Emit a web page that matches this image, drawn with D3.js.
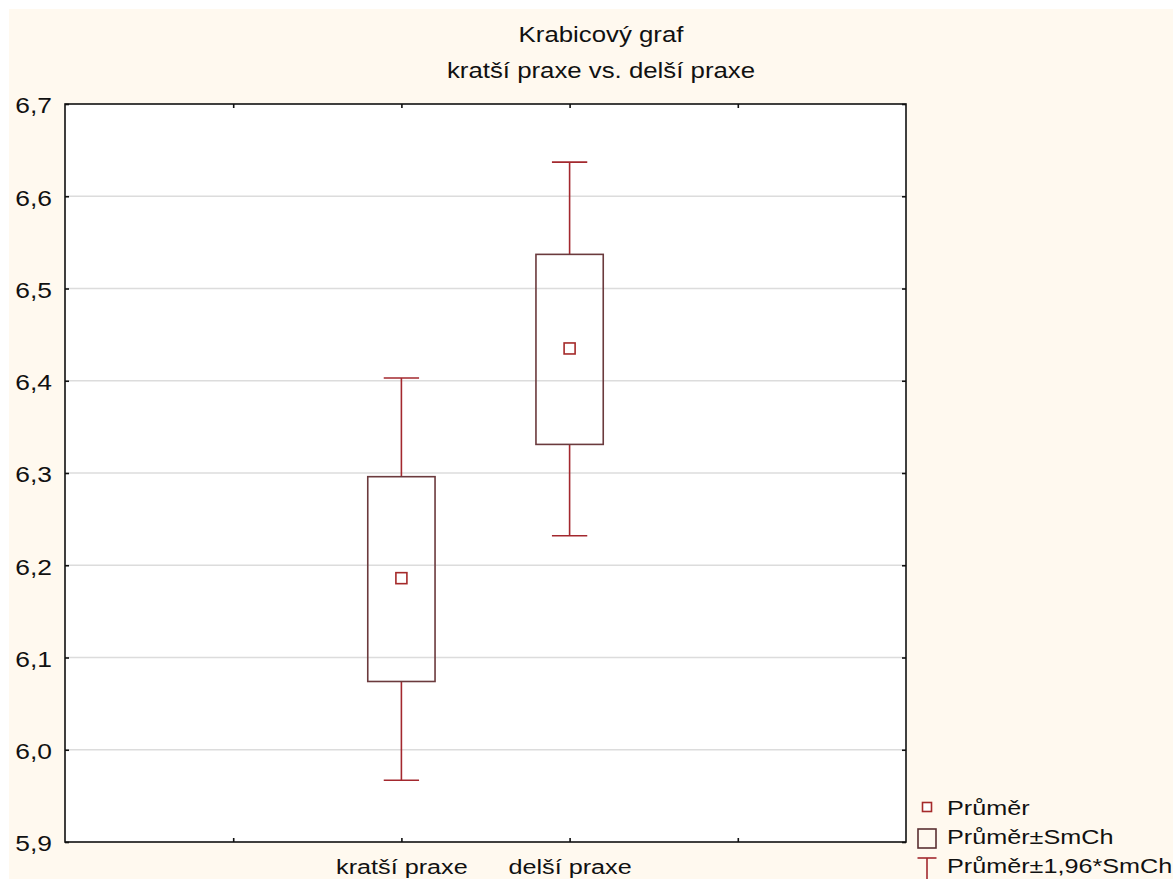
<!DOCTYPE html>
<html>
<head>
<meta charset="utf-8">
<script src="https://cdn.jsdelivr.net/npm/d3@7/dist/d3.min.js"></script>
<style>
  html, body { margin: 0; padding: 0; background: #ffffff; }
  svg { display: block; }
  text { font-family: "Liberation Sans", Arial, sans-serif; fill: #111; }
</style>
</head>
<body>
<svg id="chart" width="1173" height="879"></svg>
<script>
// Group names and their summary statistics (mean, standard error bounds, 1.96*SE bounds)
const groups = ["kratší praxe", "delší praxe"];
const means = [6.186, 6.435];
const seLow = [6.074, 6.331];
const seHigh = [6.296, 6.537];
const ciLow = [5.967, 6.232];
const ciHigh = [6.403, 6.637];
const yTicks = [5.9, 6.0, 6.1, 6.2, 6.3, 6.4, 6.5, 6.6, 6.7];
const titleLines = ["Krabicový graf", "kratší praxe vs. delší praxe"];
const legendLabels = ["Průměr", "Průměr±SmCh", "Průměr±1,96*SmCh"];

const W = 1173, H = 879;
const plot = { left: 65, right: 906, top: 104, bottom: 842 };
const stretch = 1.2; // wide glyph rendering used for all labels

const boxColor = "#6b3a3d";
const whiskerColor = "#a3282e";
const meanColor = "#a52a2a";
const gridColor = "#dcdcdc";

const svg = d3.select("#chart");

// Cream page background with a thin white margin
svg.append("rect").attr("x", 0).attr("y", 0).attr("width", W).attr("height", H).attr("fill", "#ffffff");
svg.append("rect").attr("x", 9).attr("y", 9).attr("width", W - 9).attr("height", H - 9).attr("fill", "#fff9ef");

const y = d3.scaleLinear().domain([5.9, 6.7]).range([plot.bottom, plot.top]);
// Categories sit at slots 1 and 2 of a five-slot axis
const x = d3.scaleLinear().domain([-1, 4]).range([plot.left, plot.right]);
const catPos = groups.map((g, i) => i + 1);

// Plot area
svg.append("rect")
  .attr("x", plot.left).attr("y", plot.top)
  .attr("width", plot.right - plot.left).attr("height", plot.bottom - plot.top)
  .attr("fill", "#ffffff");

// Horizontal gridlines
svg.append("g").selectAll("line")
  .data(yTicks.slice(1, -1))
  .join("line")
  .attr("x1", plot.left).attr("x2", plot.right)
  .attr("y1", d => y(d)).attr("y2", d => y(d))
  .attr("stroke", gridColor).attr("stroke-width", 1.6);

// Axes with inward ticks
const fmt = d => d3.format(".1f")(d).replace(".", ",");
const tickLen = 4;

const yAxisL = svg.append("g").attr("transform", `translate(${plot.left},0)`)
  .call(d3.axisLeft(y).tickValues(yTicks).tickSize(-tickLen).tickFormat(fmt));
const yAxisR = svg.append("g").attr("transform", `translate(${plot.right},0)`)
  .call(d3.axisRight(y).tickValues(yTicks).tickSize(-tickLen).tickFormat(""));
const xTickVals = [0, 1, 2, 3];
const xAxisB = svg.append("g").attr("transform", `translate(0,${plot.bottom})`)
  .call(d3.axisBottom(x).tickValues(xTickVals).tickSize(-tickLen)
    .tickFormat(d => (d >= 1 && d <= groups.length) ? groups[d - 1] : ""));
const xAxisT = svg.append("g").attr("transform", `translate(0,${plot.top})`)
  .call(d3.axisTop(x).tickValues(xTickVals).tickSize(-tickLen).tickFormat(""));

[yAxisL, yAxisR, xAxisB, xAxisT].forEach(a => {
  a.select(".domain").remove();
  a.selectAll(".tick line").attr("stroke", "#111").attr("stroke-width", 1.6);
});
yAxisL.selectAll(".tick text")
  .attr("font-size", 22).attr("fill", "#111")
  .attr("font-family", "Liberation Sans, Arial, sans-serif")
  .attr("x", -13 / stretch).attr("dy", "0.4em")
  .attr("transform", `scale(${stretch},1)`);
xAxisB.selectAll(".tick text")
  .attr("font-size", 21).attr("fill", "#111")
  .attr("font-family", "Liberation Sans, Arial, sans-serif")
  .attr("y", 32).attr("dy", null)
  .attr("transform", `scale(${stretch},1)`);

// Frame
svg.append("rect")
  .attr("x", plot.left).attr("y", plot.top)
  .attr("width", plot.right - plot.left).attr("height", plot.bottom - plot.top)
  .attr("fill", "none").attr("stroke", "#111").attr("stroke-width", 1.6);

// Boxes: mean ± SE, whiskers: mean ± 1.96*SE, marker: mean
const boxHalf = x(0.2) - x(0);
const capHalf = x(0.105) - x(0);
const meanHalf = 5.5;

const g = svg.append("g");
groups.forEach((name, i) => {
  const cx = x(catPos[i]);
  // upper whisker
  g.append("line").attr("x1", cx).attr("x2", cx)
    .attr("y1", y(ciHigh[i])).attr("y2", y(seHigh[i]))
    .attr("stroke", whiskerColor).attr("stroke-width", 1.6);
  g.append("line").attr("x1", cx - capHalf).attr("x2", cx + capHalf)
    .attr("y1", y(ciHigh[i])).attr("y2", y(ciHigh[i]))
    .attr("stroke", whiskerColor).attr("stroke-width", 1.6);
  // lower whisker
  g.append("line").attr("x1", cx).attr("x2", cx)
    .attr("y1", y(seLow[i])).attr("y2", y(ciLow[i]))
    .attr("stroke", whiskerColor).attr("stroke-width", 1.6);
  g.append("line").attr("x1", cx - capHalf).attr("x2", cx + capHalf)
    .attr("y1", y(ciLow[i])).attr("y2", y(ciLow[i]))
    .attr("stroke", whiskerColor).attr("stroke-width", 1.6);
  // box
  g.append("rect")
    .attr("x", cx - boxHalf).attr("y", y(seHigh[i]))
    .attr("width", boxHalf * 2).attr("height", y(seLow[i]) - y(seHigh[i]))
    .attr("fill", "none").attr("stroke", boxColor).attr("stroke-width", 1.6);
  // mean marker
  g.append("rect")
    .attr("x", cx - meanHalf).attr("y", y(means[i]) - meanHalf)
    .attr("width", meanHalf * 2).attr("height", meanHalf * 2)
    .attr("fill", "#ffffff").attr("stroke", meanColor).attr("stroke-width", 1.6);
});

// Title
svg.append("g").selectAll("text")
  .data(titleLines)
  .join("text")
  .attr("transform", (d, i) => `translate(601,${42 + i * 36}) scale(${stretch},1)`)
  .attr("text-anchor", "middle")
  .attr("font-size", 21.5)
  .text(d => d);

// Legend
const lg = svg.append("g");
const legX = 927, legTextX = 947, legY0 = 807, legStep = 29;
// mean symbol
lg.append("rect").attr("x", legX - 4.5).attr("y", legY0 - 4.5).attr("width", 9).attr("height", 9)
  .attr("fill", "#fff").attr("stroke", meanColor).attr("stroke-width", 1.6);
// box symbol
lg.append("rect").attr("x", legX - 9).attr("y", legY0 + legStep - 7).attr("width", 18).attr("height", 19)
  .attr("fill", "none").attr("stroke", "#5a3032").attr("stroke-width", 1.6);
// whisker symbol
const wy = legY0 + 2 * legStep;
lg.append("line").attr("x1", legX - 9.5).attr("x2", legX + 9.5).attr("y1", wy - 7).attr("y2", wy - 7)
  .attr("stroke", whiskerColor).attr("stroke-width", 1.6);
lg.append("line").attr("x1", legX).attr("x2", legX).attr("y1", wy - 7).attr("y2", wy + 16)
  .attr("stroke", whiskerColor).attr("stroke-width", 1.6);
lg.append("g").selectAll("text")
  .data(legendLabels)
  .join("text")
  .attr("transform", (d, i) => `translate(${legTextX},${legY0 + 8 + i * legStep}) scale(${stretch},1)`)
  .attr("font-size", 21)
  .text(d => d);
</script>
</body>
</html>
